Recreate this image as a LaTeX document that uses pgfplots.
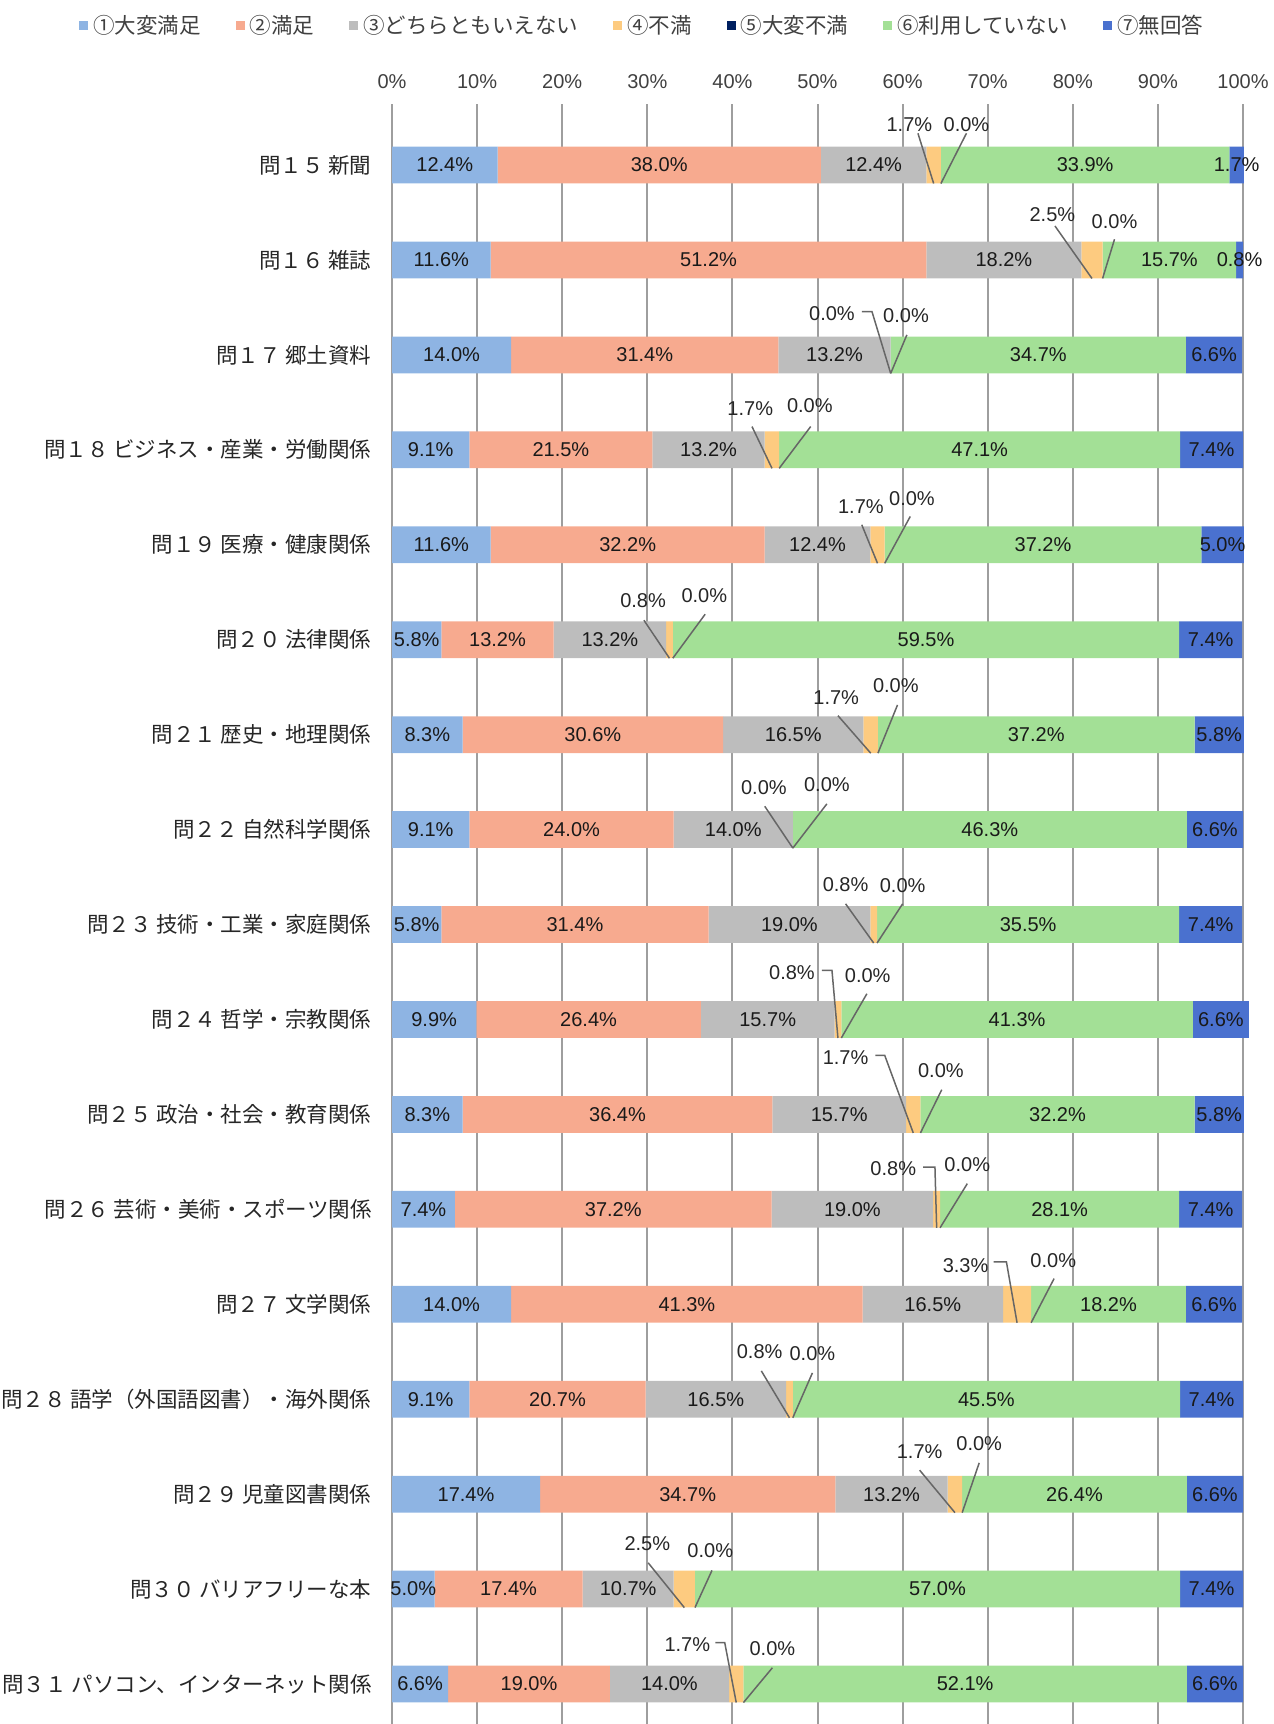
\documentclass[border=0pt]{standalone}
\usepackage{fontspec}
\setmainfont{Liberation Sans}
\newfontfamily\jp{Noto Sans CJK JP}
\usepackage{pgfplots}
\usepackage{pgfplotstable}
\pgfplotsset{compat=1.18}
\definecolor{c1}{HTML}{8EB4E3}
\definecolor{c2}{HTML}{F7AA8F}
\definecolor{c3}{HTML}{BDBDBD}
\definecolor{c4}{HTML}{FDCB80}
\definecolor{c5}{HTML}{002060}
\definecolor{c6}{HTML}{A3E096}
\definecolor{c7}{HTML}{4A71CF}
\pgfplotstableread{
idx a b c d e f g
0 12.4 38.0 12.4 1.7 0.0 33.9 1.7
-1 11.6 51.2 18.2 2.5 0.0 15.7 0.8
-2 14.0 31.4 13.2 0.0 0.0 34.7 6.6
-3 9.1 21.5 13.2 1.7 0.0 47.1 7.4
-4 11.6 32.2 12.4 1.7 0.0 37.2 5.0
-5 5.8 13.2 13.2 0.8 0.0 59.5 7.4
-6 8.3 30.6 16.5 1.7 0.0 37.2 5.8
-7 9.1 24.0 14.0 0.0 0.0 46.3 6.6
-8 5.8 31.4 19.0 0.8 0.0 35.5 7.4
-9 9.9 26.4 15.7 0.8 0.0 41.3 6.6
-10 8.3 36.4 15.7 1.7 0.0 32.2 5.8
-11 7.4 37.2 19.0 0.8 0.0 28.1 7.4
-12 14.0 41.3 16.5 3.3 0.0 18.2 6.6
-13 9.1 20.7 16.5 0.8 0.0 45.5 7.4
-14 17.4 34.7 13.2 1.7 0.0 26.4 6.6
-15 5.0 17.4 10.7 2.5 0.0 57.0 7.4
-16 6.6 19.0 14.0 1.7 0.0 52.1 6.6
}\data
\pgfplotsset{
  lab/.style={
    visualization depends on=rawx \as \segv,
    nodes near coords={\pgfmathprintnumber[fixed,fixed zerofill,precision=1,assume math mode=true]{\segv}\%},
    every node near coord/.append style={anchor=center,
      font=\fontsize{8}{9.6}\selectfont, text=black!90, inner sep=0pt}
  }
}
\tikzset{
  smalllab/.style={font=\fontsize{8}{9.6}\selectfont, text=black!85, inner sep=0pt, anchor=center},
  ldr/.style={draw=black!60, line width=0.6pt}
}
% name, i, label x, label dy(px), text, start x, start dy(px), end x
\newcommand{\defA}[8]{%
  \coordinate (#1l) at ([yshift={-0.4pt*(#4)}]axis cs:#3,#2);
  \coordinate (#1s) at ([yshift={-0.4pt*(#7)}]axis cs:#6,#2);
  \coordinate (#1e) at ([yshift=-7.4pt]axis cs:#8,#2);}
\newcommand{\drawA}[8]{\draw[ldr] (#1s) -- (#1e); \node[smalllab] at (#1l) {#5\%};}
% name, i, label x, label dy, text, start x, start dy, corner x, end x
\newcommand{\defE}[9]{%
  \coordinate (#1l) at ([yshift={-0.4pt*(#4)}]axis cs:#3,#2);
  \coordinate (#1s) at ([yshift={-0.4pt*(#7)}]axis cs:#6,#2);
  \coordinate (#1c) at ([yshift={-0.4pt*(#7)}]axis cs:#8,#2);
  \coordinate (#1e) at ([yshift=-7.4pt]axis cs:#9,#2);}
\newcommand{\drawE}[9]{\draw[ldr] (#1s) -- (#1c) -- (#1e); \node[smalllab] at (#1l) {#5\%};}
\newcommand{\annlist}{%
\A{pa}{0}{60.8}{-40}{1.7}{61.8}{-31.7}{63.65}
\A{pb}{0}{67.5}{-40}{0.0}{67.5}{-31.7}{64.5}
\A{qa}{-1}{77.6}{-45}{2.5}{77.9}{-34}{82.25}
\A{qb}{-1}{84.9}{-38.3}{0.0}{84.9}{-20.7}{83.5}
\E{ra}{-2}{51.7}{-41.7}{0.0}{55.2}{-43.3}{56.4}{58.6}
\A{rb}{-2}{60.4}{-39.3}{0.0}{60.5}{-20}{58.6}
\A{sa}{-3}{42.1}{-41.7}{1.7}{42.3}{-23.3}{44.65}
\A{sb}{-3}{49.1}{-44}{0.0}{49.2}{-23.3}{45.5}
\A{ta}{-4}{55.1}{-38.3}{1.7}{55.2}{-20}{57.05}
\A{tb}{-4}{61.1}{-45.7}{0.0}{60.9}{-28.3}{57.9}
\A{ua}{-5}{29.5}{-38.8}{0.8}{29.6}{-19.5}{32.6}
\A{ub}{-5}{36.7}{-43.8}{0.0}{36.8}{-25.5}{33.0}
\A{va}{-6}{52.2}{-37.3}{1.7}{52.4}{-19}{56.25}
\A{vb}{-6}{59.2}{-49}{0.0}{59.4}{-29.7}{57.1}
\A{wa}{-7}{43.7}{-41.7}{0.0}{43.8}{-23.3}{47.1}
\A{wb}{-7}{51.1}{-44.7}{0.0}{51.1}{-25.7}{47.1}
\A{xa}{-8}{53.3}{-40}{0.8}{53.3}{-20.7}{56.6}
\A{xb}{-8}{60.0}{-39}{0.0}{60.0}{-20.7}{57.0}
\E{ya}{-9}{47.0}{-46.7}{0.8}{50.5}{-49}{51.7}{52.4}
\A{yb}{-9}{55.9}{-44}{0.0}{55.8}{-25.7}{52.8}
\E{za}{-10}{53.3}{-56.7}{1.7}{56.8}{-59}{57.9}{61.25}
\A{zb}{-10}{64.5}{-44}{0.0}{64.6}{-24.7}{62.1}
\E{ka}{-11}{58.9}{-40.7}{0.8}{62.4}{-42.3}{63.8}{64.0}
\A{kb}{-11}{67.6}{-44.7}{0.0}{67.6}{-25.7}{64.4}
\E{la}{-12}{67.4}{-39}{3.3}{70.7}{-42.3}{72.2}{73.45}
\A{lb}{-12}{77.7}{-44}{0.0}{77.8}{-25.7}{75.1}
\A{ma}{-13}{43.2}{-47.3}{0.8}{43.4}{-28.3}{46.7}
\A{mb}{-13}{49.4}{-45.7}{0.0}{49.4}{-26.3}{47.1}
\A{na}{-14}{62.0}{-42.3}{1.7}{62.0}{-24}{66.15}
\A{nb}{-14}{69.0}{-50.7}{0.0}{69.0}{-31.3}{67.0}
\A{oa}{-15}{30.0}{-45.3}{2.5}{30.1}{-26.3}{34.35}
\A{ob}{-15}{37.4}{-38}{0.0}{37.6}{-18.7}{35.6}
\E{ja}{-16}{34.7}{-39}{1.7}{38.0}{-41.3}{39.1}{40.45}
\A{jb}{-16}{44.7}{-35.7}{0.0}{44.7}{-16.3}{41.3}
}
\begin{document}
\begin{tikzpicture}
\useasboundingbox (0,0) rectangle (509.2pt,689.6pt);
\let\A\defA \let\E\defE
\begin{axis}[
  clip=false,
  at={(156.8pt,-3pt)}, anchor=south west,
  scale only axis, width=340.4pt, height=651pt,
  xbar stacked, bar width=0.387,
  xmin=0, xmax=100, ymin=-16.5, ymax=0.643,
  xtick={0,10,...,100},
  xticklabels={0\%,10\%,20\%,30\%,40\%,50\%,60\%,70\%,80\%,90\%,100\%},
  xticklabel pos=upper,
  xticklabel style={font=\fontsize{8}{9.6}\selectfont, text=black!75, inner sep=0pt, yshift=6pt, anchor=south},
  ytick={-16,-15,...,0},
  yticklabels={問３１ パソコン、インターネット関係, 問３０ バリアフリーな本, 問２９ 児童図書関係, 問２８ 語学（外国語図書）・海外関係, 問２７ 文学関係, 問２６ 芸術・美術・スポーツ関係, 問２５ 政治・社会・教育関係, 問２４ 哲学・宗教関係, 問２３ 技術・工業・家庭関係, 問２２ 自然科学関係, 問２１ 歴史・地理関係, 問２０ 法律関係, 問１９ 医療・健康関係, 問１８ ビジネス・産業・労働関係, 問１７ 郷土資料, 問１６ 雑誌, 問１５ 新聞},
  yticklabel style={font=\jp\fontsize{8.6}{10}\selectfont, text=black!85, inner sep=0pt, xshift=-8pt, anchor=east},
  tick style={draw=none},
  axis line style={draw=none},
  xmajorgrids=true,
  major grid style={draw=black!38, line width=0.8pt},
  legend columns=7,
  legend cell align=left,
  legend style={at={(0.296,1)}, anchor=center, yshift=31.2pt, draw=none, fill=none,
    font=\jp\fontsize{8.6}{10}\selectfont, text=black!75, inner sep=0pt,
    /tikz/every even column/.append style={column sep=12pt}},
  legend image code/.code={\fill[#1] (0pt,-1.8pt) rectangle (3.6pt,1.8pt);},
]
\addplot[fill=c1, draw=none, lab] table[x=a, y=idx] {\data};
\addplot[fill=c2, draw=none, lab] table[x=b, y=idx] {\data};
\addplot[fill=c3, draw=none, lab] table[x=c, y=idx] {\data};
\addplot[fill=c4, draw=none] table[x=d, y=idx] {\data};
\addplot[fill=c5, draw=none] table[x=e, y=idx] {\data};
\addplot[fill=c6, draw=none, lab] table[x=f, y=idx] {\data};
\addplot[fill=c7, draw=none, lab] table[x=g, y=idx] {\data};
\legend{①大変満足, ②満足, ③どちらともいえない, ④不満, ⑤大変不満, ⑥利用していない, ⑦無回答}
\annlist
\end{axis}
\let\A\drawA \let\E\drawE
\annlist
\end{tikzpicture}
\end{document}
